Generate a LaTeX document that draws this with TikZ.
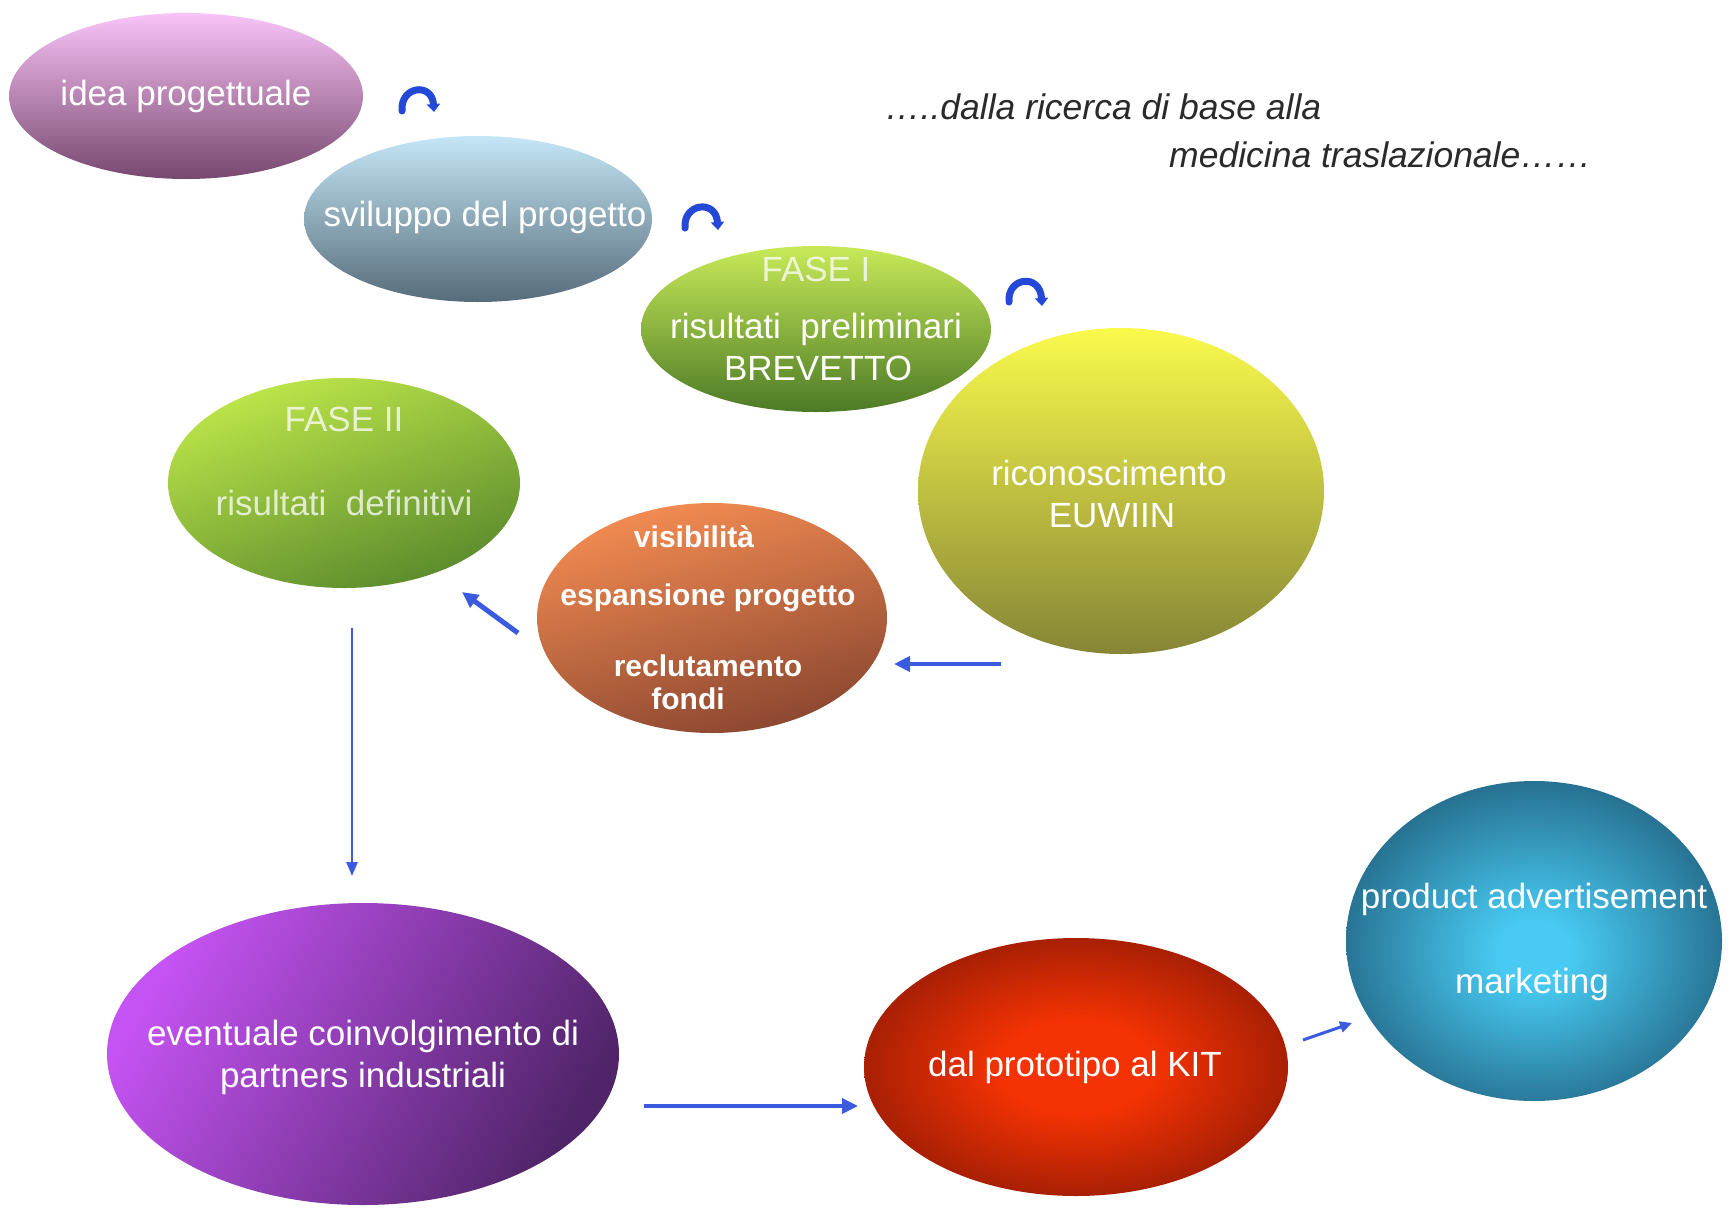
\documentclass[tikz,border=0pt]{standalone}
\usepackage{fontspec}
\setmainfont{Liberation Sans}
\usetikzlibrary{shapes.geometric,arrows.meta,calc}

\definecolor{idtop}{HTML}{F9C3F7}\definecolor{idbot}{HTML}{77486F}
\definecolor{svtop}{HTML}{C4E6F6}\definecolor{svbot}{HTML}{566C7A}
\definecolor{fatop}{HTML}{C8EA58}\definecolor{fabot}{HTML}{4C7A26}
\definecolor{fbtop}{HTML}{BEE64A}\definecolor{fbbot}{HTML}{5A8A2C}
\definecolor{eutop}{HTML}{FAFA4C}\definecolor{eubot}{HTML}{858536}
\definecolor{vitop}{HTML}{F48C52}\definecolor{vibot}{HTML}{8A4630}
\definecolor{evleft}{HTML}{C553F3}\definecolor{evright}{HTML}{4F2468}
\definecolor{protoin}{HTML}{F43204}\definecolor{protoout}{HTML}{701204}
\definecolor{prodin}{HTML}{48CAF2}\definecolor{prodout}{HTML}{1A4F6C}
\definecolor{arrowblue}{HTML}{3A5BE0}
\definecolor{curveblue}{HTML}{2448D8}
\definecolor{titlegray}{HTML}{2A2A2A}

\pgfdeclareradialshading{protoshade}{\pgfpoint{0bp}{0bp}}{color(0bp)=(protoin); color(9bp)=(protoin); color(37bp)=(protoout); color(50bp)=(protoout)}
\pgfdeclareradialshading{prodshade}{\pgfpoint{0bp}{-2bp}}{color(0bp)=(prodin); color(5bp)=(prodin); color(34bp)=(prodout); color(50bp)=(prodout)}

\tikzset{
  blob/.style={ellipse, inner sep=0pt, draw=none},
  lbl/.style={text=white, font=\fontsize{35}{40}\selectfont, inner sep=0pt},
  lblfaint/.style={lbl, text opacity=0.75},
  lblb/.style={text=white, font=\fontsize{30}{34}\selectfont\bfseries, inner sep=0pt},
  titletext/.style={text=titlegray, font=\fontsize{35.5}{40}\selectfont\itshape, inner sep=0pt, anchor=west},
  flow/.style={draw=arrowblue, line width=4pt, -{Triangle[length=16pt,width=15pt]}},
  thinflow/.style={draw=arrowblue, line width=2.5pt, -{Triangle[length=14pt,width=11pt]}},
  turn/.style={draw=curveblue, line width=7pt, line cap=round, -{Triangle[length=8pt,width=13pt]}}
}

\begin{document}
\begin{tikzpicture}[x=1pt,y=-1pt]
\useasboundingbox (0,0) rectangle (1734,1210);
\fill[white] (0,0) rectangle (1734,1210);

% ellipses
\node[blob, top color=idtop, bottom color=idbot, minimum width=354pt, minimum height=166pt] (idea) at (186,96) {};
\node[blob, top color=svtop, bottom color=svbot, minimum width=348pt, minimum height=166pt] (svil) at (478,219) {};
\node[blob, top color=fatop, bottom color=fabot, minimum width=350pt, minimum height=166pt] (fase1) at (816,329) {};
\node[blob, top color=fbtop, bottom color=fbbot, shading angle=20, minimum width=352pt, minimum height=210pt] (fase2) at (344,483) {};
\node[blob, top color=eutop, bottom color=eubot, minimum width=406pt, minimum height=326pt] (euwiin) at (1121,491) {};
\node[blob, top color=vitop, bottom color=vibot, shading angle=15, minimum width=350pt, minimum height=230pt] (vis) at (712,618) {};
\node[blob, top color=evleft, bottom color=evright, shading angle=60, minimum width=512pt, minimum height=302pt] (event) at (363,1054) {};
\node[blob, shading=protoshade, minimum width=424pt, minimum height=258pt] (proto) at (1076,1067) {};
\node[blob, shading=prodshade, minimum width=376pt, minimum height=320pt] (prod) at (1534,941) {};

% texts
\node[lbl] (t-idea) at (186,96) {idea progettuale};
\node[lbl] (t-svil) at (485,217) {sviluppo del progetto};
\node[lblfaint] (t-f1a) at (816,269) {FASE I};
\node[lbl] (t-f1b) at (816,329) {risultati\ \ preliminari};
\node[lbl] (t-f1c) at (818,368) {BREVETTO};
\node[lblfaint] (t-f2a) at (344,419) {FASE II};
\node[lblfaint] (t-f2b) at (344,503) {risultati\ \ definitivi};
\node[lbl] (t-eu1) at (1109,473) {riconoscimento};
\node[lbl] (t-eu2) at (1112,516) {EUWIIN};
\node[lblb] (t-vi1) at (694,537) {visibilità};
\node[lblb] (t-vi2) at (708,598) {espansione progetto};
\node[lblb] (t-vi3) at (708,666) {reclutamento};
\node[lblb] (t-vi4) at (688,699) {fondi};
\node[lbl] (t-ev1) at (363,1036) {eventuale coinvolgimento di};
\node[lbl] (t-ev2) at (363,1078) {partners industriali};
\node[lbl] (t-proto) at (1075,1067) {dal prototipo al KIT};
\node[lbl] (t-pr1) at (1534,899) {product advertisement};
\node[lbl] (t-pr2) at (1532,984) {marketing};

\node[titletext] (title1) at (885,107) {…..dalla ricerca di base alla};
\node[titletext] (title2) at (1169,155) {medicina traslazionale……};

% curved connectors
\coordinate (ca1) at (402,111); \coordinate (ca2) at (434,112);
\coordinate (cb1) at (685,228); \coordinate (cb2) at (718,230);
\coordinate (cc1) at (1009,302); \coordinate (cc2) at (1042,306);
\draw[turn] (ca1) .. controls (400,86) and (432,82) .. (ca2);
\draw[turn] (cb1) .. controls (683,203) and (716,199) .. (cb2);
\draw[turn] (cc1) .. controls (1007,277) and (1040,273) .. (cc2);

% straight connectors
\coordinate (e1) at (1001,664); \coordinate (e2) at (894,664);
\draw[flow] (e1) -- (e2);
\coordinate (v1) at (518,633); \coordinate (v2) at (462,592);
\draw[flow, line width=5pt] (v1) -- (v2);
\coordinate (f1) at (352,628); \coordinate (f2) at (352,876);
\draw[thinflow] (f1) -- (f2);
\coordinate (g1) at (644,1106); \coordinate (g2) at (858,1106);
\draw[flow, line width=3.5pt] (g1) -- (g2);
\coordinate (h1) at (1303,1040); \coordinate (h2) at (1352,1023);
\draw[flow, line width=3pt, -{Triangle[length=12pt,width=11pt]}] (h1) -- (h2);
\end{tikzpicture}
\end{document}
